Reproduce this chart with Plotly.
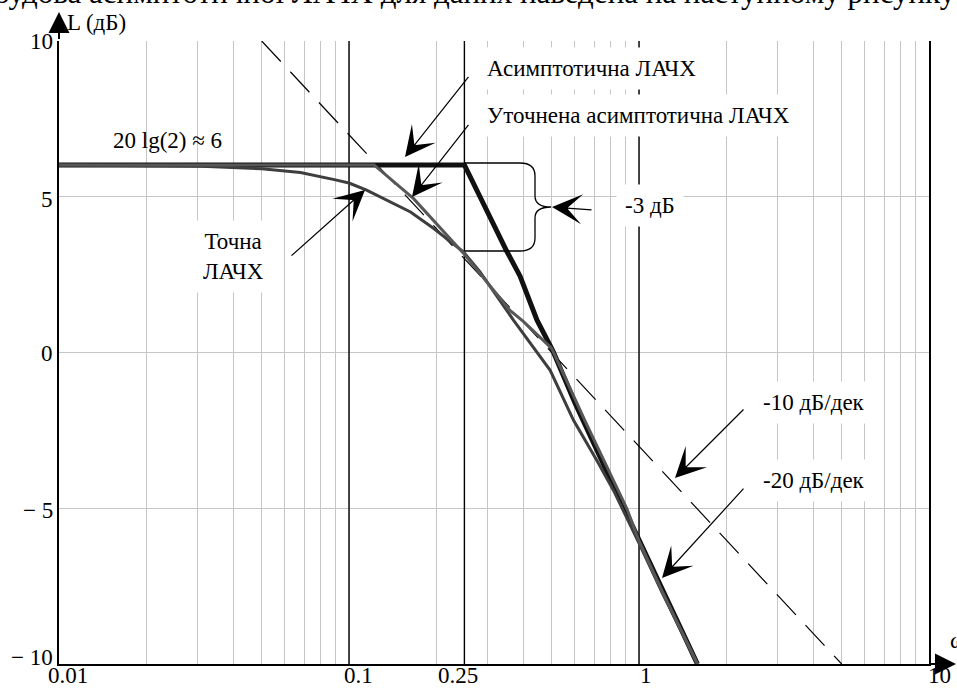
import plotly.graph_objects as go

# ---------------- data ----------------
# asymptotic LAFC (thick black)
w_asym = [0.01, 0.25, 0.283, 0.307, 0.35, 0.389, 0.445, 0.505, 0.6, 0.8, 1.0, 1.2, 1.4, 1.59]
L_asym = [6.02, 6.02, 5.0, 4.3, 3.25, 2.45, 1.04, 0.05, -1.6, -4.1, -6.05, -7.6, -8.9, -10.0]

# refined asymptotic LAFC (grey)
w_ref = [0.01, 0.122, 0.167, 0.248, 0.359, 0.399, 0.5, 0.652, 0.907, 1.0, 1.2, 1.4, 1.59]
L_ref = [6.02, 6.02, 4.94, 3.19, 1.35, 1.0, 0.13, -2.2, -5.0, -6.05, -7.65, -8.95, -10.0]

# exact LAFC (dark grey)
w_exact = [0.01, 0.031, 0.05, 0.068, 0.089, 0.1, 0.115, 0.132, 0.163, 0.196, 0.248, 0.283,
           0.369, 0.494, 0.594, 0.715, 0.816, 1.0, 1.2, 1.4, 1.59]
L_exact = [6.02, 5.98, 5.9, 5.78, 5.55, 5.44, 5.21, 4.94, 4.51, 3.98, 3.23, 2.59,
           1.04, -0.57, -2.17, -3.46, -4.42, -6.12, -7.7, -8.95, -10.0]

# -10 dB/dec dashed line
w_dash = [0.05, 5.0]
L_dash = [10.0, -10.0]

# marked frequencies (black vertical lines)
w_major = [0.1, 0.25, 1.0]

x_tick_vals = [0.01, 0.1, 0.25, 1, 10]
x_tick_text = ["0.01", "0.1", "0.25", "1", "10"]
x_grid_vals = [k * 10.0 ** e for e in (-2, -1, 0) for k in range(2, 10)]
y_tick_vals = [-10, -5, 0, 5, 10]
y_tick_text = ["\u2212 10", "\u2212 5", "0", "5", "10"]

header_text = "Побудова асимптотичної ЛАЧХ для даних наведена на наступному рисунку"

labels = [
    ("20 lg(2) \u2248 6", 113, 140, "left", False),
    ("Асимптотична ЛАЧХ", 487, 68, "left", True),
    ("Уточнена асимптотична ЛАЧХ", 487, 115, "left", True),
    ("-3 дБ", 625, 205, "left", True),
    ("Точна<br>ЛАЧХ", 233, 256, "center", True),
    ("-10 дБ/дек", 763, 402, "left", True),
    ("-20 дБ/дек", 763, 480, "left", True),
    ("L (дБ)", 67, 23, "left", False),
    ("\u03c9", 950, 640, "left", False),
]

# pointer arrows: (tail px), (head px)
arrows = [((470, 75), (405, 157)), ((470, 123), (412, 197)), ((290, 257), (365, 190)),
          ((593, 210), (552, 207)), ((745, 408), (675, 478)), ((745, 487), (662, 578))]

# tick label placement (pixel centres as drawn in the reference)
x_label_px = [68, 358, 458, 646, 939]
x_label_py = 675
y_label_py = [657, 510, 354, 199, 41]
y_label_right = 55

# ---------------- layout geometry ----------------
W, H = 957, 694
ML, MR, MT, MB = 59, 28, 41, 30
PW = W - ML - MR
PH = H - MT - MB
FONT = "Liberation Serif, Times New Roman, serif"
FS = 23
GRID = "#c6c6c6"


def P(x, y):
    return (x - ML) / PW, (H - MB - y) / PH


fig = go.Figure()

for w in w_major:
    fig.add_trace(go.Scatter(x=[w, w], y=[-10, 10], mode="lines",
                             line=dict(color="black", width=1.4), hoverinfo="skip"))

fig.add_trace(go.Scatter(x=w_dash, y=L_dash, mode="lines",
                         line=dict(color="black", width=1.2, dash="28px,14px"), hoverinfo="skip"))
fig.add_trace(go.Scatter(x=w_asym, y=L_asym, mode="lines",
                         line=dict(color="#111111", width=5), hoverinfo="skip"))
fig.add_trace(go.Scatter(x=w_exact, y=L_exact, mode="lines",
                         line=dict(color="#3e3e3e", width=3), hoverinfo="skip"))
fig.add_trace(go.Scatter(x=w_ref, y=L_ref, mode="lines",
                         line=dict(color="#575757", width=3), hoverinfo="skip"))

all_x = sorted(x_tick_vals + x_grid_vals)

annotations = []
for text, x, y, anchor, bg in labels:
    pad = 8 if bg else 0
    xx = x - pad - 1 if anchor == "left" else x
    xp, yp = P(xx, y)
    annotations.append(dict(text=text, x=xp, y=yp, xref="paper", yref="paper",
                            xanchor=anchor, yanchor="middle", showarrow=False,
                            font=dict(family=FONT, size=FS, color="black"),
                            bgcolor="white" if bg else "rgba(0,0,0,0)", borderpad=pad))

# tick labels
for t, xpx in zip(x_tick_text, x_label_px):
    xp, yp = P(xpx, x_label_py)
    annotations.append(dict(text=t, x=xp, y=yp, xref="paper", yref="paper",
                            xanchor="center", yanchor="middle", showarrow=False,
                            font=dict(family=FONT, size=FS, color="black")))
for t, ypx in zip(y_tick_text, y_label_py):
    xp, yp = P(y_label_right, ypx)
    annotations.append(dict(text=t, x=xp, y=yp, xref="paper", yref="paper",
                            xanchor="right", yanchor="middle", showarrow=False,
                            font=dict(family=FONT, size=FS, color="black")))

for (tx, ty), (hx, hy) in arrows:
    xp, yp = P(hx, hy)
    annotations.append(dict(text=" ", x=xp, y=yp, xref="paper", yref="paper",
                            ax=tx - hx, ay=ty - hy, showarrow=True, arrowhead=3,
                            arrowsize=4.2, arrowwidth=1.2, arrowcolor="black",
                            font=dict(size=1), standoff=0))

# axis arrows
for (tx, ty), (hx, hy) in [((59, 41), (59, 12)), ((929, 664), (957, 664))]:
    xp, yp = P(hx, hy)
    annotations.append(dict(text=" ", x=xp, y=yp, xref="paper", yref="paper",
                            ax=tx - hx, ay=ty - hy, showarrow=True, arrowhead=2,
                            arrowsize=2.1, arrowwidth=2, arrowcolor="black",
                            font=dict(size=1), standoff=0))

# header line cut at the top of the page
hx, hy = P(-46, -7)
annotations.append(dict(text=header_text, x=hx, y=hy, xref="paper", yref="paper",
                        xanchor="left", yanchor="middle", showarrow=False,
                        font=dict(family=FONT, size=31, color="black")))

# curly brace marking -3 dB
brace_pts = [("M", [(465, 163)]), ("L", [(520, 163)]), ("Q", [(535, 163), (535, 176)]),
             ("L", [(535, 196)]), ("Q", [(535, 207), (551, 207)]), ("Q", [(535, 207), (535, 218)]),
             ("L", [(535, 238)]), ("Q", [(535, 251), (520, 251)]), ("L", [(465, 251)])]
path = ""
for cmd, pts in brace_pts:
    path += cmd + " ".join("%.5f,%.5f" % P(x, y) for x, y in pts) + " "

fig.update_layout(
    width=W, height=H,
    margin=dict(l=ML, r=MR, t=MT, b=MB, pad=0),
    paper_bgcolor="white", plot_bgcolor="white",
    showlegend=False,
    font=dict(family=FONT, size=FS, color="black"),
    xaxis=dict(type="log", range=[-2, 1], tickvals=all_x, showticklabels=False,
               showgrid=True, gridcolor=GRID, gridwidth=1, zeroline=False,
               showline=True, linecolor="black", linewidth=2, ticks=""),
    yaxis=dict(range=[-10, 10], tickvals=y_tick_vals, showticklabels=False,
               showgrid=True, gridcolor=GRID, gridwidth=1, zeroline=False,
               showline=True, linecolor="black", linewidth=2, mirror=True, ticks=""),
    annotations=annotations,
    shapes=[dict(type="path", path=path.strip(), xref="paper", yref="paper",
                 line=dict(color="black", width=1.3))],
)

fig.write_html("out.html", config={"displayModeBar": False})
